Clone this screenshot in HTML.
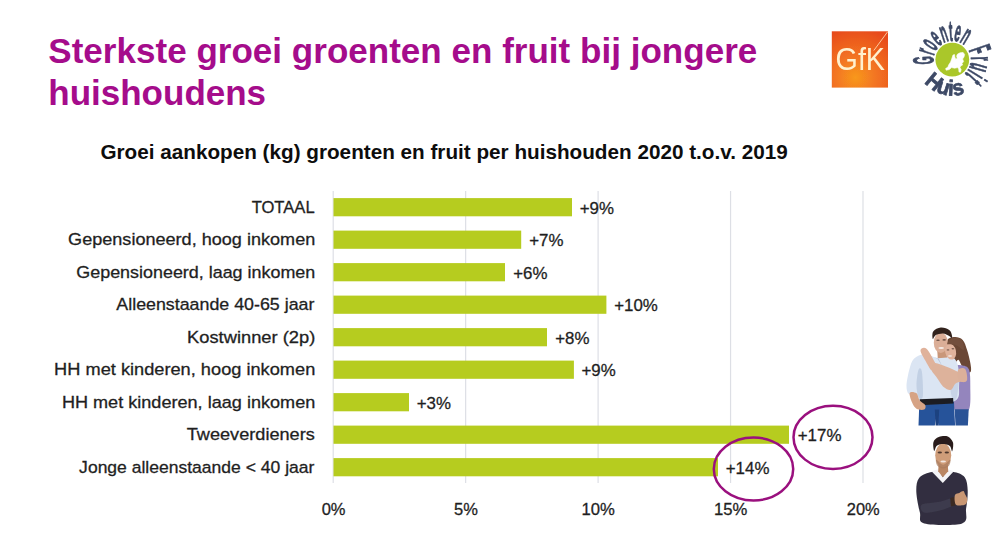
<!DOCTYPE html>
<html lang="nl">
<head>
<meta charset="utf-8">
<title>Sterkste groei groenten en fruit bij jongere huishoudens</title>
<style>
html,body{margin:0;padding:0;background:#fff;}
body{width:1000px;height:553px;position:relative;overflow:hidden;font-family:"Liberation Sans",sans-serif;}
h1{position:absolute;left:48.3px;top:29.8px;margin:0;width:760px;font:bold 35px/42px "Liberation Sans",sans-serif;color:#a50c8b;}
h1 .l1{letter-spacing:0.025px;}
svg{position:absolute;left:0;top:0;}
svg text{font-family:"Liberation Sans",sans-serif;}
</style>
</head>
<body>
<h1><span class="l1">Sterkste groei groenten en fruit bij jongere</span> huishoudens</h1>
<svg width="1000" height="553" viewBox="0 0 1000 553">
<line x1="333.20" y1="191" x2="333.20" y2="483" stroke="#dddfe5" stroke-width="1.2"/>
<line x1="465.65" y1="191" x2="465.65" y2="483" stroke="#dddfe5" stroke-width="1.2"/>
<line x1="598.10" y1="191" x2="598.10" y2="483" stroke="#dddfe5" stroke-width="1.2"/>
<line x1="730.55" y1="191" x2="730.55" y2="483" stroke="#dddfe5" stroke-width="1.2"/>
<line x1="863.00" y1="191" x2="863.00" y2="483" stroke="#dddfe5" stroke-width="1.2"/>
<rect x="333.5" y="198.10" width="238.5" height="18.2" fill="#b6cc1f"/>
<rect x="333.5" y="230.60" width="187.7" height="18.2" fill="#b6cc1f"/>
<rect x="333.5" y="263.10" width="171.5" height="18.2" fill="#b6cc1f"/>
<rect x="333.5" y="295.60" width="272.9" height="18.2" fill="#b6cc1f"/>
<rect x="333.5" y="328.10" width="213.5" height="18.2" fill="#b6cc1f"/>
<rect x="333.5" y="360.60" width="240.4" height="18.2" fill="#b6cc1f"/>
<rect x="333.5" y="393.10" width="75.5" height="18.2" fill="#b6cc1f"/>
<rect x="333.5" y="425.60" width="455.5" height="18.2" fill="#b6cc1f"/>
<rect x="333.5" y="458.10" width="384.5" height="18.2" fill="#b6cc1f"/>
<text x="251.64" y="212.60" font-size="16.9" stroke="#1f1f1f" stroke-width="0.3" fill="#1f1f1f" textLength="63.00" lengthAdjust="spacingAndGlyphs">TOTAAL</text>
<text x="68.09" y="245.10" font-size="16.9" stroke="#1f1f1f" stroke-width="0.3" fill="#1f1f1f" textLength="247.18" lengthAdjust="spacingAndGlyphs">Gepensioneerd, hoog inkomen</text>
<text x="76.30" y="277.60" font-size="16.9" stroke="#1f1f1f" stroke-width="0.3" fill="#1f1f1f" textLength="238.96" lengthAdjust="spacingAndGlyphs">Gepensioneerd, laag inkomen</text>
<text x="116.37" y="310.10" font-size="16.9" stroke="#1f1f1f" stroke-width="0.3" fill="#1f1f1f" textLength="198.03" lengthAdjust="spacingAndGlyphs">Alleenstaande 40-65 jaar</text>
<text x="187.10" y="342.60" font-size="16.9" stroke="#1f1f1f" stroke-width="0.3" fill="#1f1f1f" textLength="128.14" lengthAdjust="spacingAndGlyphs">Kostwinner (2p)</text>
<text x="54.11" y="375.10" font-size="16.9" stroke="#1f1f1f" stroke-width="0.3" fill="#1f1f1f" textLength="261.18" lengthAdjust="spacingAndGlyphs">HH met kinderen, hoog inkomen</text>
<text x="61.92" y="407.60" font-size="16.9" stroke="#1f1f1f" stroke-width="0.3" fill="#1f1f1f" textLength="253.36" lengthAdjust="spacingAndGlyphs">HH met kinderen, laag inkomen</text>
<text x="186.80" y="440.10" font-size="16.9" stroke="#1f1f1f" stroke-width="0.3" fill="#1f1f1f" textLength="127.95" lengthAdjust="spacingAndGlyphs">Tweeverdieners</text>
<text x="79.13" y="472.60" font-size="16.9" stroke="#1f1f1f" stroke-width="0.3" fill="#1f1f1f" textLength="235.26" lengthAdjust="spacingAndGlyphs">Jonge alleenstaande &lt; 40 jaar</text>
<text x="579.68" y="213.90" font-size="16.9" stroke="#1f1f1f" stroke-width="0.3" fill="#1f1f1f" textLength="34.22" lengthAdjust="spacingAndGlyphs">+9%</text>
<text x="529.18" y="246.40" font-size="16.9" stroke="#1f1f1f" stroke-width="0.3" fill="#1f1f1f" textLength="34.22" lengthAdjust="spacingAndGlyphs">+7%</text>
<text x="513.18" y="278.90" font-size="16.9" stroke="#1f1f1f" stroke-width="0.3" fill="#1f1f1f" textLength="34.22" lengthAdjust="spacingAndGlyphs">+6%</text>
<text x="614.18" y="311.40" font-size="16.9" stroke="#1f1f1f" stroke-width="0.3" fill="#1f1f1f" textLength="43.63" lengthAdjust="spacingAndGlyphs">+10%</text>
<text x="555.18" y="343.90" font-size="16.9" stroke="#1f1f1f" stroke-width="0.3" fill="#1f1f1f" textLength="34.22" lengthAdjust="spacingAndGlyphs">+8%</text>
<text x="581.48" y="376.40" font-size="16.9" stroke="#1f1f1f" stroke-width="0.3" fill="#1f1f1f" textLength="34.22" lengthAdjust="spacingAndGlyphs">+9%</text>
<text x="416.78" y="408.90" font-size="16.9" stroke="#1f1f1f" stroke-width="0.3" fill="#1f1f1f" textLength="34.22" lengthAdjust="spacingAndGlyphs">+3%</text>
<text x="797.78" y="441.40" font-size="16.9" stroke="#1f1f1f" stroke-width="0.3" fill="#1f1f1f" textLength="43.63" lengthAdjust="spacingAndGlyphs">+17%</text>
<text x="725.78" y="473.90" font-size="16.9" stroke="#1f1f1f" stroke-width="0.3" fill="#1f1f1f" textLength="43.63" lengthAdjust="spacingAndGlyphs">+14%</text>
<text x="321.66" y="514.50" font-size="16.9" stroke="#1f1f1f" stroke-width="0.3" fill="#1f1f1f" textLength="23.83" lengthAdjust="spacingAndGlyphs">0%</text>
<text x="454.09" y="514.50" font-size="16.9" stroke="#1f1f1f" stroke-width="0.3" fill="#1f1f1f" textLength="23.85" lengthAdjust="spacingAndGlyphs">5%</text>
<text x="581.48" y="514.50" font-size="16.9" stroke="#1f1f1f" stroke-width="0.3" fill="#1f1f1f" textLength="33.36" lengthAdjust="spacingAndGlyphs">10%</text>
<text x="713.93" y="514.50" font-size="16.9" stroke="#1f1f1f" stroke-width="0.3" fill="#1f1f1f" textLength="33.36" lengthAdjust="spacingAndGlyphs">15%</text>
<text x="846.82" y="514.50" font-size="16.9" stroke="#1f1f1f" stroke-width="0.3" fill="#1f1f1f" textLength="32.91" lengthAdjust="spacingAndGlyphs">20%</text>
<text x="100.45" y="159.30" font-size="19.3" font-weight="bold" fill="#0d0d0d" textLength="687.31" lengthAdjust="spacingAndGlyphs">Groei aankopen (kg) groenten en fruit per huishouden 2020 t.o.v. 2019</text>
<defs>
  <radialGradient id="gfkg" cx="0.42" cy="0.82" r="0.9">
    <stop offset="0" stop-color="#f8981e"/>
    <stop offset="0.4" stop-color="#f37521"/>
    <stop offset="1" stop-color="#e74a1c"/>
  </radialGradient>
  <path id="arcG" d="M 934.06 64.15 A 18.8 18.8 0 0 1 964.38 45.20"/>
  <path id="arcF" d="M 968.58 50.20 A 18.8 18.8 0 0 1 964.88 73.57"/>
  <path id="arcH" d="M 924.32 82.26 A 36 36 0 0 0 964.61 93.43"/>
  <filter id="soft" x="-10%" y="-10%" width="120%" height="120%"><feGaussianBlur stdDeviation="0.45"/></filter>
  <filter id="photo" x="-10%" y="-10%" width="120%" height="120%"><feGaussianBlur stdDeviation="0.7"/></filter>
</defs>

<!-- GfK logo -->
<g filter="url(#soft)">
  <rect x="831.8" y="31.3" width="56.2" height="56.3" fill="url(#gfkg)"/>
  <path d="M 887.6 31.8 L 873.8 50.5" stroke="#ffe3b8" stroke-width="0.9" fill="none" opacity="0.9"/>
  <text x="835.6" y="69.8" font-size="30.5" fill="#fff1cf" textLength="49.4" lengthAdjust="spacingAndGlyphs">GfK</text>
</g>

<!-- GroentenFruit Huis logo -->
<g filter="url(#soft)">
  <circle cx="952.3" cy="59.6" r="16.9" fill="#aac72a"/>
  <path d="M 963.1 52.4 L 964.6 54.4 L 964.0 57.0 L 962.6 59.0 L 963.6 61.5 L 962.0 63.5 L 962.6 65.0 L 960.6 66.0 L 960.0 67.6 L 961.2 69.6 L 960.5 72.2 L 959.0 72.0 L 958.7 69.0 L 957.6 67.6 L 954.6 68.2 L 951.6 67.6 L 949.2 69.6 L 946.2 70.2 L 945.6 68.6 L 948.0 67.0 L 948.6 65.0 L 950.6 62.0 L 952.0 58.0 L 953.0 55.0 L 954.6 54.6 L 954.8 57.0 L 955.8 59.2 L 957.2 58.2 L 956.6 56.0 L 957.6 54.0 L 960.1 52.8 Z" fill="#ffffff" stroke="#ffffff" stroke-width="0.6" stroke-linejoin="round"/>
  <text font-size="29" font-weight="bold" fill="#3d4966" stroke="#3d4966" stroke-width="0.9" stroke-linejoin="round"><textPath href="#arcG" textLength="47.2" lengthAdjust="spacingAndGlyphs">Groenten</textPath></text>
  <text font-size="31" font-weight="bold" fill="#3d4966" stroke="#3d4966" stroke-width="0.9" stroke-linejoin="round"><textPath href="#arcF" textLength="25.6" lengthAdjust="spacingAndGlyphs">Fruit</textPath></text>
  <text font-size="22" font-weight="bold" fill="#3d4966" stroke="#3d4966" stroke-width="0.7" stroke-linejoin="round"><textPath href="#arcH" textLength="44.6" lengthAdjust="spacingAndGlyphs">Huis</textPath></text>
</g>

<!-- highlight ellipses -->
<ellipse cx="833" cy="437.3" rx="39.5" ry="31.6" fill="none" stroke="#9a107e" stroke-width="2.5"/>
<ellipse cx="753.5" cy="469" rx="39.7" ry="31.5" fill="none" stroke="#9a107e" stroke-width="2.5"/>
<g filter="url(#photo)">
<path d="M 947.2 340.9 C 948.2 337.5 952.1 337.3 954.7 337.1 C 957.3 337.0 960.6 337.8 962.7 339.9 C 964.8 342.0 965.8 346.1 967.1 349.9 C 968.3 353.7 969.7 359.2 970.3 362.8 C 970.9 366.5 971.6 370.2 970.7 371.8 C 969.7 373.3 966.2 373.2 964.7 372.2 C 963.2 371.2 962.8 367.9 961.7 365.8 C 960.6 363.7 959.5 360.3 958.3 359.8 C 957.2 359.3 956.4 363.1 954.7 362.8 C 953.1 362.5 949.6 361.5 948.4 357.8 C 947.1 354.2 946.1 344.4 947.2 340.9 Z" fill="#6a4634" />
<path d="M 954.7 367.8 C 956.2 364.1 960.3 365.1 962.7 365.4 C 965.1 365.7 967.8 366.4 969.1 369.8 C 970.3 373.2 970.3 379.0 970.3 385.7 C 970.2 392.4 971.3 406.0 968.7 410.0 C 966.1 414.1 957.2 413.7 954.7 410.0 C 952.3 406.3 953.9 394.7 953.9 387.7 C 953.9 380.7 953.3 371.5 954.7 367.8 Z" fill="#9485bd" />
<path d="M 954.7 409.2 L 968.7 409.2 L 967.9 425.5 L 955.5 425.5 Z" fill="#2a5296" />
<path d="M 919.3 403.6 L 953.9 400.6 L 955.1 425.5 L 938.4 425.5 L 936.8 413.6 L 934.8 425.5 L 918.5 425.5 Z" fill="#28529a" />
<path d="M 934.8 409.6 L 939.2 409.6 L 938.4 425.5 L 935.6 425.5 Z" fill="#1f4280" />
<path d="M 924.9 353.9 C 928.9 353.7 934.0 357.7 937.8 357.8 C 941.6 358.0 944.5 354.0 947.8 354.8 C 951.0 355.7 955.2 357.7 957.1 362.8 C 959.0 368.0 959.6 379.3 959.1 385.7 C 958.7 392.1 960.8 398.5 954.3 401.2 C 947.9 404.0 926.7 403.0 920.5 402.0 C 914.3 401.1 919.2 397.0 917.3 395.7 C 915.4 394.3 910.7 395.7 908.9 394.1 C 907.1 392.4 906.5 389.8 906.5 385.7 C 906.6 381.7 908.1 374.3 909.3 369.8 C 910.6 365.3 911.3 361.5 913.9 358.8 C 916.5 356.2 920.9 354.0 924.9 353.9 Z" fill="#dbe5f3" />
<path d="M 918.5 369.8 C 919.4 367.5 921.2 367.5 921.9 371.8 C 922.6 376.1 923.4 391.4 922.9 395.7 C 922.4 400.0 920.0 399.3 918.9 397.7 C 917.8 396.0 916.6 390.4 916.5 385.7 C 916.4 381.1 917.6 372.1 918.5 369.8 Z" fill="#bccbe0" opacity="0.8"/>
<path d="M 951.8 379.7 C 953.0 377.7 957.4 377.1 958.3 379.7 C 959.2 382.4 957.9 392.2 957.1 395.7 C 956.4 399.2 954.8 401.3 953.7 400.6 C 952.7 400.0 951.1 395.2 950.8 391.7 C 950.4 388.2 950.5 381.7 951.8 379.7 Z" fill="#c3d0e4" opacity="0.8"/>
<path d="M 919.7 399.3 L 953.1 398.1 L 953.5 403.6 L 920.1 405.2 Z" fill="#1e1e24" />
<path d="M 909.7 392.9 C 910.5 391.3 914.8 392.0 916.5 393.3 C 918.2 394.6 918.2 398.7 919.7 400.6 C 921.2 402.6 924.5 403.7 925.3 405.2 C 926.0 406.7 925.5 409.0 924.1 409.6 C 922.6 410.2 918.5 410.0 916.5 408.8 C 914.5 407.6 913.3 405.3 912.1 402.6 C 911.0 400.0 909.0 394.4 909.7 392.9 Z" fill="#d6a385" />
<path d="M 920.5 350.3 C 920.7 348.3 924.1 346.7 926.5 348.7 C 928.9 350.7 933.0 358.8 934.8 362.2 C 936.6 365.6 937.7 367.7 937.2 369.0 C 936.7 370.3 933.6 371.6 931.6 370.2 C 929.6 368.8 927.1 363.9 925.3 360.6 C 923.4 357.3 920.3 352.3 920.5 350.3 Z" fill="#e0b29b" />
<path d="M 930.4 364.2 C 931.3 363.0 932.6 361.9 937.6 363.4 C 942.6 364.9 956.1 370.3 960.3 373.0 C 964.6 375.6 963.6 378.1 963.1 379.3 C 962.6 380.5 962.2 381.6 957.1 380.1 C 952.0 378.7 936.9 373.2 932.4 370.6 C 928.0 367.9 929.6 365.4 930.4 364.2 Z" fill="#deb39c" />
<path d="M 934.0 364.2 C 936.6 364.1 942.7 368.2 947.2 369.8 C 951.7 371.4 958.1 372.1 961.1 373.8 C 964.1 375.4 966.0 378.1 965.1 379.7 C 964.2 381.3 958.3 381.7 955.9 383.3 C 953.6 385.0 953.1 389.0 951.2 389.7 C 949.2 390.4 946.4 389.4 944.0 387.3 C 941.5 385.2 938.5 379.8 936.4 376.9 C 934.4 374.1 932.0 372.3 931.6 370.2 C 931.2 368.1 931.4 364.3 934.0 364.2 Z" fill="#ddb29b" />
<path d="M 958.3 369.8 C 959.4 368.1 963.6 367.3 965.1 369.0 C 966.6 370.6 967.5 377.5 967.1 379.7 C 966.7 381.9 964.2 382.3 962.7 382.1 C 961.2 382.0 959.1 381.0 958.3 378.9 C 957.6 376.9 957.2 371.4 958.3 369.8 Z" fill="#dbb09a" />
<path d="M 937.2 349.9 L 946.4 349.9 L 947.2 357.4 L 937.8 358.2 Z" fill="#c9977a" />
<ellipse cx="940.8" cy="342.7" rx="7.0" ry="10.2" fill="#dbae97" />
<path d="M 932.8 338.9 C 932.4 338.3 931.9 333.4 933.2 331.5 C 934.6 329.7 938.0 327.8 940.8 327.6 C 943.6 327.4 947.8 328.6 949.8 330.4 C 951.7 332.1 952.4 337.4 952.3 338.3 C 952.2 339.2 950.8 336.7 949.2 335.9 C 947.6 335.1 945.0 333.7 942.8 333.5 C 940.6 333.4 937.5 334.2 935.8 335.1 C 934.2 336.0 933.3 339.5 932.8 338.9 Z" fill="#33241f" />
<ellipse cx="950.6" cy="351.7" rx="5.4" ry="8.0" fill="#e0b39d" transform="rotate(-12 950.6 351.7)"/>
<path d="M 947.2 343.5 C 947.3 342.4 950.3 338.5 952.7 337.9 C 955.2 337.3 959.9 337.9 961.7 339.9 C 963.5 341.9 964.4 348.9 963.7 349.9 C 963.0 350.9 959.7 346.8 957.7 345.9 C 955.7 345.0 953.5 344.7 951.8 344.3 C 950.0 343.9 947.0 344.6 947.2 343.5 Z" fill="#73503c" />
<ellipse cx="938.0" cy="340.3" rx="1.8" ry="0.8" fill="#4a342c" opacity="0.75"/>
<ellipse cx="944.2" cy="339.9" rx="1.8" ry="0.8" fill="#4a342c" opacity="0.75"/>
<ellipse cx="948.0" cy="349.9" rx="1.4" ry="0.7" fill="#4a342c" opacity="0.7"/>
<ellipse cx="952.9" cy="348.7" rx="1.4" ry="0.7" fill="#4a342c" opacity="0.7"/>
<path d="M 934.0 357.0 L 937.6 359.0 L 942.0 365.8 L 938.8 359.0 Z" fill="#aebcd2" opacity="0.8"/>
<ellipse cx="941.2" cy="348.1" rx="2.8" ry="1.0" fill="#f5ece6" />
<ellipse cx="950.0" cy="356.0" rx="2.2" ry="0.8" fill="#f5ece6" />
</g>
<g filter="url(#photo)">
<path d="M 931.9 472.0 C 935.8 471.5 939.2 474.8 942.8 474.8 C 946.4 474.8 949.7 471.6 953.4 472.0 C 957.0 472.4 962.3 474.1 964.7 477.2 C 967.1 480.3 967.5 485.5 967.7 490.7 C 967.9 496.0 967.0 503.2 966.1 508.6 C 965.2 514.1 969.1 520.9 962.1 523.4 C 955.2 525.8 931.3 525.2 924.3 523.4 C 917.3 521.6 921.2 517.9 919.9 512.6 C 918.6 507.3 916.5 497.5 916.3 491.7 C 916.2 485.9 916.5 481.3 919.1 478.0 C 921.7 474.7 927.9 472.5 931.9 472.0 Z" fill="#322f3f" />
<path d="M 931.5 471.2 L 938.2 469.2 L 942.8 477.2 L 947.8 469.2 L 953.8 471.2 L 942.8 483.1 Z" fill="#f3f3f6" />
<path d="M 938.6 463.8 L 947.8 463.8 L 948.2 471.2 L 942.8 477.2 L 938.2 471.2 Z" fill="#b98663" />
<ellipse cx="943.2" cy="455.3" rx="8.0" ry="11.9" fill="#cf9d79" />
<path d="M 934.2 450.9 C 933.7 450.3 932.7 444.2 933.5 441.9 C 934.2 439.6 936.4 437.8 938.8 436.9 C 941.2 436.1 945.4 435.6 947.8 436.5 C 950.1 437.5 952.2 440.1 953.0 442.5 C 953.7 445.0 952.7 450.7 952.2 451.3 C 951.6 451.8 951.3 447.1 949.8 445.9 C 948.2 444.7 945.0 444.1 942.8 444.1 C 940.7 444.1 938.3 444.6 936.8 445.7 C 935.4 446.8 934.8 451.5 934.2 450.9 Z" fill="#2a1f1b" />
<ellipse cx="939.8" cy="452.5" rx="2.2" ry="1.0" fill="#2e211c" opacity="0.8"/>
<ellipse cx="946.8" cy="452.5" rx="2.2" ry="1.0" fill="#2e211c" opacity="0.8"/>
<path d="M 936.2 459.8 C 937.2 459.7 940.9 464.8 943.2 464.8 C 945.5 464.8 949.2 459.7 950.2 459.8 C 951.1 460.0 950.1 464.4 949.0 465.8 C 947.8 467.2 945.1 468.4 943.2 468.4 C 941.3 468.4 938.6 467.2 937.4 465.8 C 936.3 464.4 935.3 460.0 936.2 459.8 Z" fill="#a87a5c" opacity="0.7"/>
<ellipse cx="943.2" cy="461.4" rx="2.8" ry="1.0" fill="#f1e6df" />
<path d="M 921.9 504.6 C 924.6 502.8 934.8 502.7 939.8 501.7 C 944.9 500.7 949.9 498.1 952.2 498.7 C 954.4 499.2 955.4 503.1 953.4 505.0 C 951.3 507.0 944.7 509.4 939.8 510.6 C 934.9 511.9 926.9 513.6 923.9 512.6 C 920.9 511.6 919.2 506.5 921.9 504.6 Z" fill="#3d3a4d" />
<path d="M 950.2 497.9 L 954.6 497.1 L 955.4 505.4 L 951.0 506.2 Z" fill="#3a2a22" />
<path d="M 955.0 495.1 C 955.7 493.2 958.3 493.4 959.7 492.7 C 961.1 492.0 962.5 490.9 963.3 491.1 C 964.2 491.3 964.3 492.6 964.9 493.9 C 965.6 495.2 967.2 497.3 967.3 499.1 C 967.4 500.8 967.0 503.2 965.7 504.3 C 964.4 505.3 961.5 505.5 959.7 505.4 C 958.0 505.4 956.2 505.6 955.4 503.9 C 954.6 502.1 954.2 497.0 955.0 495.1 Z" fill="#c99773" />
</g>
</svg>
</body>
</html>
